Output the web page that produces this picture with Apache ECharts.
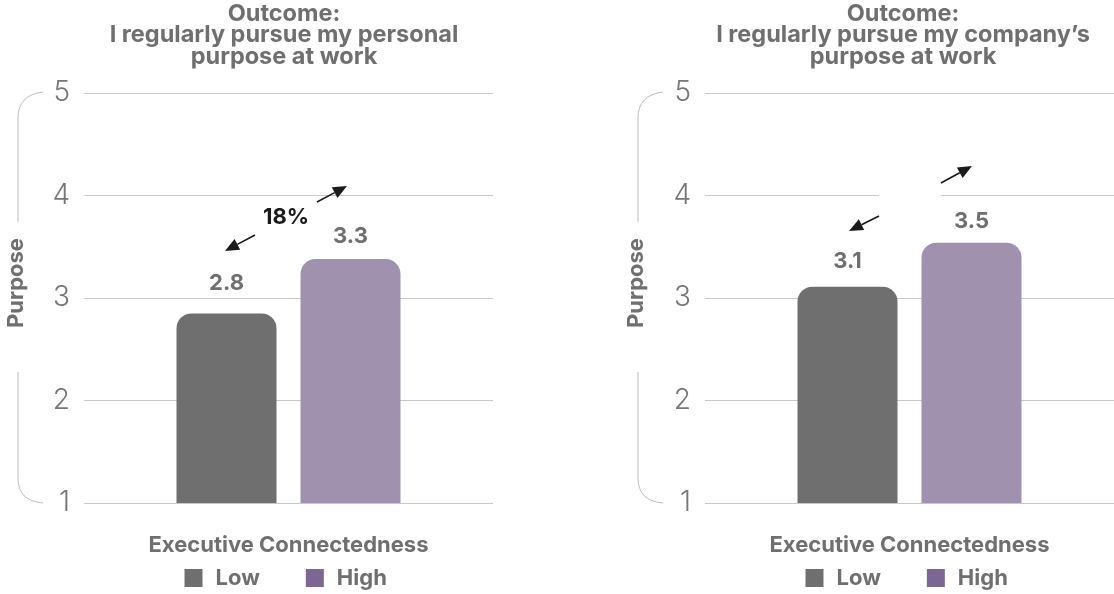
<!DOCTYPE html>
<html><head><meta charset="utf-8">
<script src="https://cdn.jsdelivr.net/npm/echarts@6/dist/echarts.min.js"></script>
<style>html,body{margin:0;padding:0;background:#fff}#c{width:1114px;height:594px}</style>
</head><body><div id="c"></div>
<script>
const categories = ['Executive Connectedness'];
const seriesNames = ['Low', 'High'];
const panelTitles = ['Outcome:\nI regularly pursue my personal\npurpose at work', 'Outcome:\nI regularly pursue my company\u2019s\npurpose at work'];
const lowValues = [2.85, 3.11];
const highValues = [3.38, 3.54];
const lowLabels = ['2.8', '3.1'];
const highLabels = ['3.3', '3.5'];
const diffLabels = ['18%', ''];
const yAxisName = 'Purpose';
const xAxisName = 'Executive Connectedness';

const FONT = 'Inter, Roboto, sans-serif';
const GREY = '#6f6f6f';
const LOW_C = '#6f6f6f';
const HIGH_C = '#a091ae';
const HIGH_ICON = '#7c6692';

const grids = [
  {left: 84, top: 93, width: 409, height: 410},
  {left: 705, top: 93, width: 409, height: 410}
];

const chart = echarts.init(document.getElementById('c'), null, {renderer: 'canvas'});

const xAxes = grids.map((g, i) => ({
  type: 'category', gridIndex: i, data: categories,
  axisLine: {show: false}, axisTick: {show: false}, axisLabel: {show: false},
  name: xAxisName, nameLocation: 'middle', nameGap: 31,
  nameTextStyle: {fontFamily: FONT, fontSize: 22, fontWeight: 700, color: GREY}
}));
const yAxes = grids.map((g, i) => ({
  type: 'value', gridIndex: i, min: 1, max: 5, interval: 1,
  axisLine: {show: false}, axisTick: {show: false},
  axisLabel: {fontFamily: FONT, fontSize: 28, fontWeight: 300, color: '#777', margin: 14},
  splitLine: {lineStyle: {color: '#c8c8c8', width: 1}}
}));

const lowDist = [19, 14];
const highDist = [12, 10];
const series = [];
grids.forEach((g, i) => {
  series.push({
    type: 'bar', name: seriesNames[0], xAxisIndex: i, yAxisIndex: i,
    data: [lowValues[i]], barWidth: 100, barGap: '24%',
    itemStyle: {color: LOW_C, borderRadius: [15, 15, 0, 0]},
    label: {show: true, position: 'top', distance: lowDist[i], formatter: () => lowLabels[i],
      fontFamily: FONT, fontSize: 22, fontWeight: 700, color: GREY}
  });
  series.push({
    type: 'bar', name: seriesNames[1], xAxisIndex: i, yAxisIndex: i,
    data: [highValues[i]], barWidth: 100, barGap: '24%',
    itemStyle: {color: HIGH_C, borderRadius: [15, 15, 0, 0]},
    label: {show: true, position: 'top', distance: highDist[i], formatter: () => highLabels[i],
      fontFamily: FONT, fontSize: 22, fontWeight: 700, color: GREY}
  });
});

const legends = grids.map((g, i) => ({
  data: [{name: seriesNames[0], itemStyle: {color: LOW_C}}, {name: seriesNames[1], itemStyle: {color: HIGH_ICON}}],
  left: g.left + g.width / 2 - 104, top: 567, itemWidth: 18, itemHeight: 18, itemGap: 46,
  icon: 'rect', selectedMode: false, padding: 0,
  textStyle: {fontFamily: FONT, fontSize: 22, fontWeight: 700, color: GREY, padding: [0, 0, 0, 8]}
}));

function arrow(x1, y1, x2, y2) {
  const dx = x2 - x1, dy = y2 - y1, L = Math.sqrt(dx * dx + dy * dy);
  const ux = dx / L, uy = dy / L, h = 14, w = 6;
  const bx = x2 - ux * h, by = y2 - uy * h;
  return [
    {type: 'line', shape: {x1, y1, x2: bx, y2: by}, style: {stroke: '#1a1a1a', lineWidth: 1.6}, z: 10},
    {type: 'polygon', shape: {points: [[x2, y2], [bx - uy * w, by + ux * w], [bx + uy * w, by - ux * w]]}, style: {fill: '#1a1a1a'}, z: 10}
  ];
}
function bracket(ox) {
  const st = {stroke: '#bdbdbd', fill: null, lineWidth: 1};
  return [
    {type: 'bezierCurve', shape: {x1: 43 + ox, y1: 92, cpx1: 18 + ox, cpy1: 95, x2: 18 + ox, y2: 118}, style: st, z: 5},
    {type: 'line', shape: {x1: 18 + ox, y1: 118, x2: 18 + ox, y2: 222}, style: st, z: 5},
    {type: 'line', shape: {x1: 18 + ox, y1: 372, x2: 18 + ox, y2: 478}, style: st, z: 5},
    {type: 'bezierCurve', shape: {x1: 18 + ox, y1: 478, cpx1: 18 + ox, cpy1: 501, x2: 43 + ox, y2: 503}, style: st, z: 5},
    {type: 'text', x: 16 + ox, y: 283, rotation: Math.PI / 2, style: {text: yAxisName, align: 'center', verticalAlign: 'middle',
      fontFamily: FONT, fontSize: 22, fontWeight: 700, fill: GREY}, z: 6}
  ];
}

const titleCenters = [284, 903];
const graphic = [];
titleCenters.forEach((cx, i) => {
  graphic.push({type: 'text', x: cx, y: 3, style: {text: panelTitles[i], align: 'center', verticalAlign: 'top',
    fontFamily: FONT, fontSize: 23.5, fontWeight: 700, fill: GREY, lineHeight: 21.5}});
});
graphic.push(...bracket(0), ...bracket(620));
graphic.push({type: 'rect', shape: {x: 879, y: 190, width: 62, height: 12}, style: {fill: '#fff'}, z: 8});
graphic.push(...arrow(255, 235, 225, 251), ...arrow(317, 202, 347, 186));
graphic.push(...arrow(879, 216, 849, 231), ...arrow(941, 183, 972, 166));
graphic.push({type: 'text', x: 286, y: 217, style: {text: diffLabels[0], align: 'center', verticalAlign: 'middle',
  fontFamily: FONT, fontSize: 22, fontWeight: 700, fill: '#1a1a1a'}, z: 10});

chart.setOption({
  animation: false,
  backgroundColor: '#fff',
  grid: grids,
  xAxis: xAxes,
  yAxis: yAxes,
  legend: legends,
  series: series,
  graphic: graphic
});
</script></body></html>
